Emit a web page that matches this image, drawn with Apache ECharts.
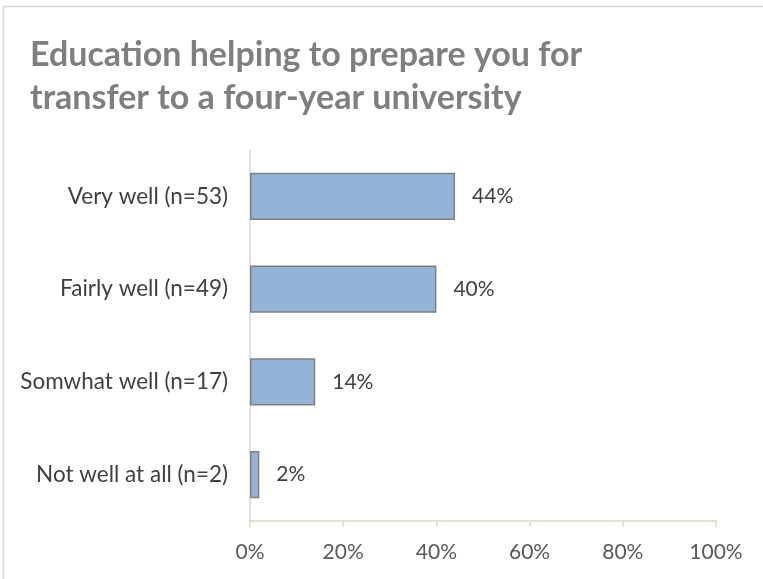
<!DOCTYPE html>
<html>
<head>
<meta charset="utf-8">
<script src="https://cdn.jsdelivr.net/npm/echarts@6/dist/echarts.min.js"></script>
<style>html,body{margin:0;padding:0;background:#fff;}#c{width:763px;height:579px;}</style>
</head>
<body>
<div id="c"></div>
<script>
const titleText = "Education helping to prepare you for\ntransfer to a four-year university";
const categories = ["Very well (n=53)", "Fairly well (n=49)", "Somwhat well (n=17)", "Not well at all (n=2)"];
const values = [44, 40, 14, 2];
const xTicks = [0, 20, 40, 60, 80, 100];

const chart = echarts.init(document.getElementById('c'), null, {renderer: 'canvas'});
const FONT = 'Lato, "Open Sans", sans-serif';
chart.setOption({
  animation: false,
  backgroundColor: '#ffffff',
  graphic: [{
    type: 'rect', z: 100, silent: true,
    shape: {x: 3.5, y: 6.5, width: 820, height: 640},
    style: {fill: 'none', stroke: '#d9d9d9', lineWidth: 1.5}
  }],
  title: {
    text: titleText, left: 25, top: 29,
    textStyle: {fontFamily: FONT, fontWeight: 'bold', fontSize: 34, color: '#7f7f7f', lineHeight: 43}
  },
  grid: {left: 250, right: 47, top: 150, bottom: 58, containLabel: false},
  xAxis: {
    type: 'value', min: xTicks[0], max: xTicks[xTicks.length - 1], interval: 20,
    axisLine: {show: true, lineStyle: {color: '#ddd9c3', width: 1.5}},
    axisTick: {show: true, length: 6, inside: false, lineStyle: {color: '#ddd9c3', width: 1.5}},
    splitLine: {show: false},
    axisLabel: {formatter: v => v + '%', margin: 21, fontFamily: FONT, fontSize: 21, color: '#595959'}
  },
  yAxis: {
    type: 'category', data: categories, inverse: true,
    axisLine: {show: true, lineStyle: {color: '#d9d9d9', width: 1.5}},
    axisTick: {show: false},
    axisLabel: {margin: 22, fontFamily: FONT, fontSize: 22.5, color: '#404040'}
  },
  series: [{
    type: 'bar', data: values, barWidth: '51%',
    itemStyle: {color: '#95b3d7', borderColor: '#808080', borderWidth: 1.5},
    label: {show: true, position: 'right', distance: 17, formatter: p => p.value + '%',
      fontFamily: FONT, fontSize: 21, color: '#404040'}
  }]
});
</script>
</body>
</html>
